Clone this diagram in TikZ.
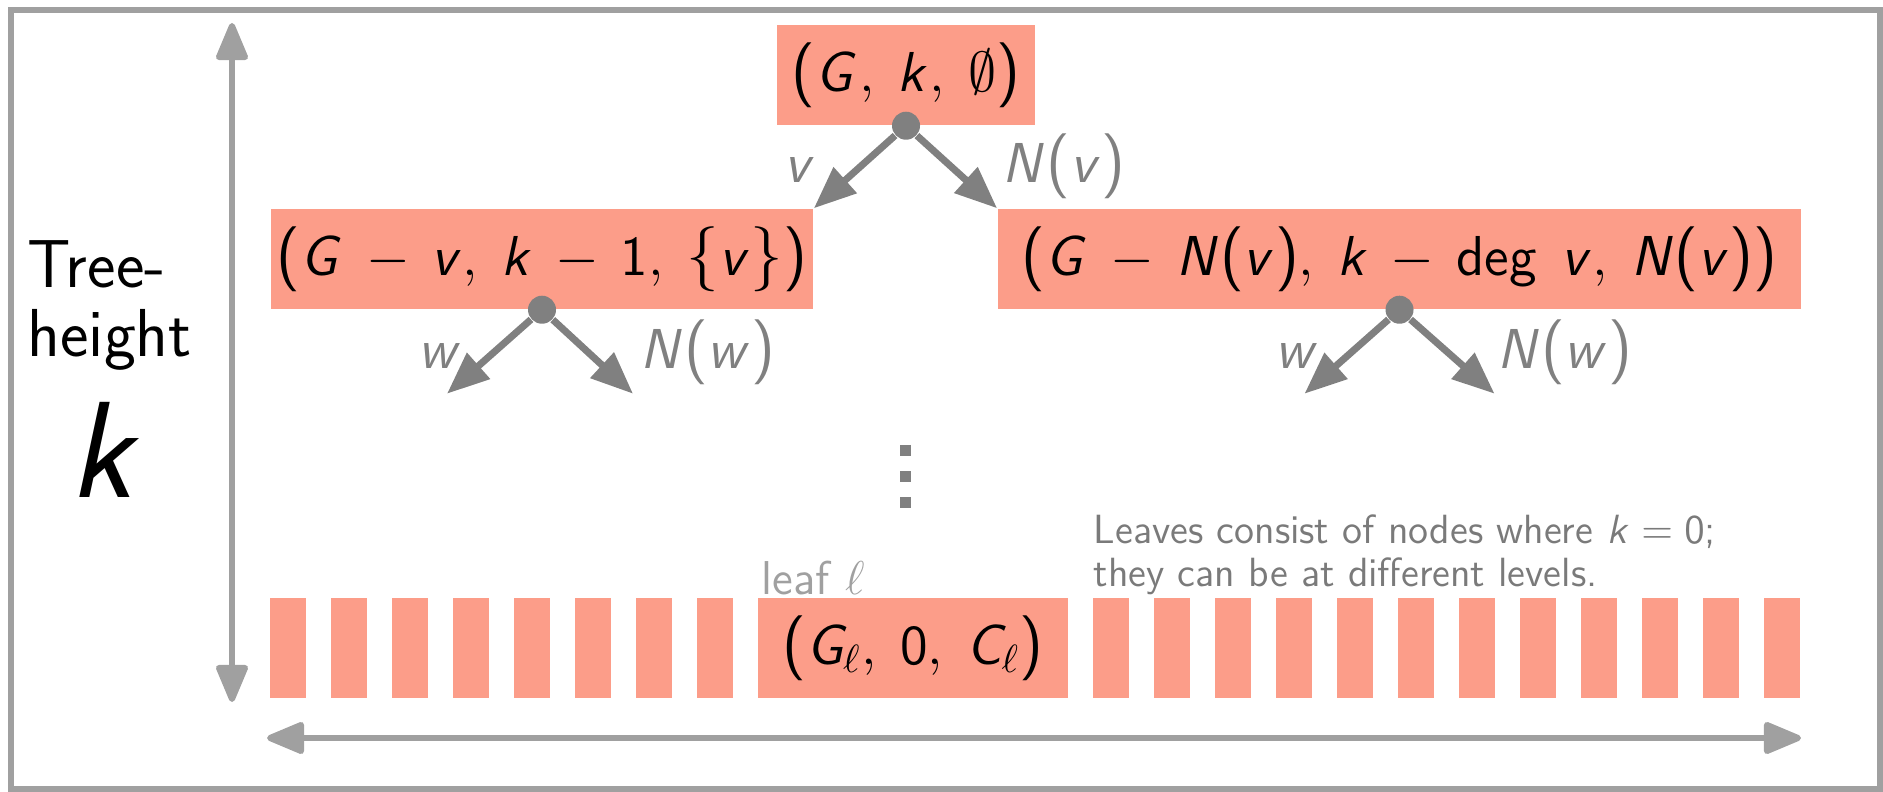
\RequirePackage{fix-cm}
\documentclass[tikz,border=0pt]{standalone}
\usetikzlibrary{positioning,arrows.meta}
\renewcommand{\familydefault}{\sfdefault}
\definecolor{boxsalmon}{RGB}{252,157,137}
\definecolor{arrgray}{RGB}{128,128,128}
\definecolor{axgray}{RGB}{160,160,160}
\definecolor{notegray}{RGB}{122,122,122}
% sans serif math: upright operators, slanted letters
\DeclareSymbolFont{operators}{OT1}{cmss}{m}{n}
\DeclareSymbolFont{sfslant}{OT1}{cmss}{m}{sl}
\DeclareMathSymbol{C}{\mathalpha}{sfslant}{`C}
\DeclareMathSymbol{G}{\mathalpha}{sfslant}{`G}
\DeclareMathSymbol{N}{\mathalpha}{sfslant}{`N}
\DeclareMathSymbol{k}{\mathalpha}{sfslant}{`k}
\DeclareMathSymbol{v}{\mathalpha}{sfslant}{`v}
\DeclareMathSymbol{w}{\mathalpha}{sfslant}{`w}
% tall brackets
\newcommand{\tallfont}{\fontsize{18.5}{20}\selectfont}
\newcommand{\bp}[1]{\mathopen{\hbox{\tallfont(}}#1\mathclose{\hbox{\tallfont)}}}
\newcommand{\bset}[1]{\mathopen{\hbox{\tallfont\{}}#1\mathclose{\hbox{\tallfont\}}}}
\newcommand{\boxfont}{\fontsize{16}{19.2}\selectfont\thinmuskip=7.5mu\medmuskip=7mu}

\begin{document}
\begin{tikzpicture}[
  x=0.01cm, y=-0.01cm,
  treebox/.style={fill=boxsalmon, minimum height=1cm, inner sep=0pt, font=\boxfont},
  knot/.style={circle, fill=arrgray, inner sep=0pt, minimum size=0.28cm},
  branch/.style={-{Triangle[length=12pt,width=9.5pt]}, line width=2pt, draw=arrgray},
  blabel/.style={anchor=base, inner sep=0pt, text=arrgray, font=\boxfont},
  axis/.style={{Triangle[round,length=12pt,width=9.5pt]}-{Triangle[round,length=12pt,width=9.5pt]},
               line width=1.7pt, draw=axgray}
]
  \useasboundingbox (0,0) rectangle (1883,792);
  \draw[axgray, line width=1.7pt] (11,10) rectangle (1880,789);

  % search tree
  \node[treebox, minimum width=2.58cm] (root) at (906,75) {$\bp{G, k, \emptyset}$};
  \node[treebox, minimum width=5.42cm] (lchild) at (542,259) {$\bp{G - v, k - 1, \bset{v}}$};
  \node[treebox, minimum width=8.03cm] (rchild) at (1399.5,259) {$\bp{G - N\bp{v}, k - \deg v, N\bp{v}}$};

  \node[knot] (rootdot) at (root.south) {};
  \node[knot] (ldot) at (lchild.south) {};
  \node[knot] (rdot) at (rchild.south) {};

  \draw[branch] (rootdot) -- (lchild.north east);
  \draw[branch] (rootdot) -- (rchild.north west);
  \node[blabel] (vlbl) at (800,183) {$v$};
  \node[blabel] (nvlbl) at (1064,183) {$N\bp{v}$};

  \coordinate (lw) at ([shift={(-95,84)}]ldot.center);
  \coordinate (lnw) at ([shift={(91,84)}]ldot.center);
  \coordinate (rw) at ([shift={(-95,84)}]rdot.center);
  \coordinate (rnw) at ([shift={(95,84)}]rdot.center);
  \draw[branch] (ldot) -- (lw);
  \draw[branch] (ldot) -- (lnw);
  \draw[branch] (rdot) -- (rw);
  \draw[branch] (rdot) -- (rnw);
  \node[blabel] (lwlbl) at (440,369) {$w$};
  \node[blabel] (lnwlbl) at (708,369) {$N\bp{w}$};
  \node[blabel] (rwlbl) at (1297,369) {$w$};
  \node[blabel] (rnwlbl) at (1565,369) {$N\bp{w}$};

  % vertical dots
  \coordinate (vdtop) at (905.5,445);
  \coordinate (vdbot) at (905.5,508);
  \draw[arrgray, line width=0.11cm, dash pattern=on 0.11cm off 0.15cm] (vdtop) -- (vdbot);

  % leaves
  \foreach \i in {0,...,7}
    \fill[boxsalmon] ({697-61*\i},598) rectangle ++(36,100);
  \foreach \i in {0,...,11}
    \fill[boxsalmon] ({1093+61*\i},598) rectangle ++(36,100);
  \node[treebox, minimum width=3.1cm] (leaf) at (913,648) {$\bp{G_{\ell}, 0, C_{\ell}}$};
  \node[anchor=base west, inner sep=0pt, text=axgray, font=\fontsize{13.5}{15}\selectfont]
    (leaflbl) at (761,595) {leaf $\ell$};
  \node[anchor=north west, inner sep=0pt, align=left, text=notegray,
        font=\fontsize{11.6}{12.2}\selectfont]
    (note) at (1093,514) {Leaves consist of nodes where $k = 0$;\\they can be at different levels.};

  % height and width
  \coordinate (htop) at (232,23);
  \coordinate (hbot) at (232,702);
  \draw[axis] (htop) -- (hbot);
  \coordinate (wleft) at (267,738);
  \coordinate (wright) at (1801,738);
  \draw[axis] (wleft) -- (wright);

  \node[anchor=base west, inner sep=0pt, font=\fontsize{19.3}{21}\selectfont] (treeup) at (27,288) {Tree-};
  \node[anchor=base west, inner sep=0pt, font=\fontsize{19.3}{21}\selectfont] (treelow) at (27,357) {height};
  \node[anchor=base, inner sep=0pt, font=\fontsize{39}{40}\selectfont] (kbig) at (106,498) {$k$};
\end{tikzpicture}
\end{document}
